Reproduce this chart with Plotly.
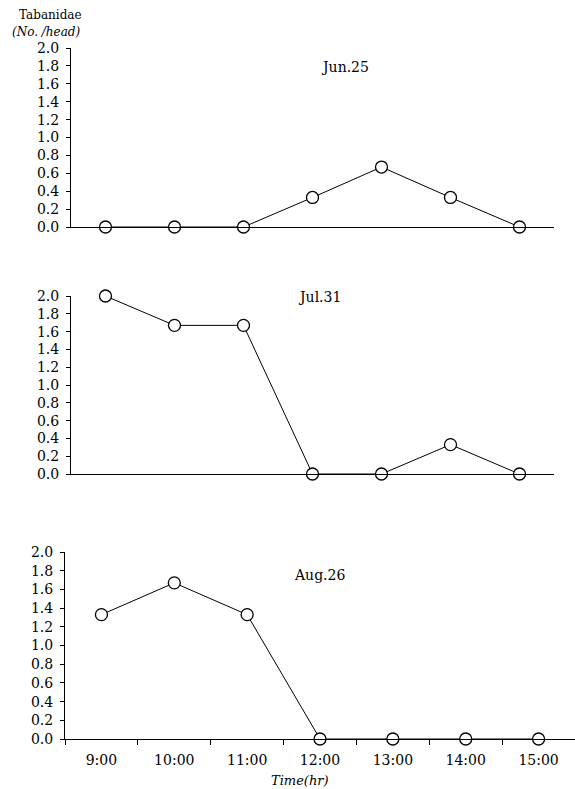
import plotly.graph_objects as go

times = ["9:00", "10:00", "11:00", "12:00", "13:00", "14:00", "15:00"]
jun25 = [0.0, 0.0, 0.0, 0.33, 0.67, 0.33, 0.0]
jul31 = [2.0, 1.67, 1.67, 0.0, 0.0, 0.33, 0.0]
aug26 = [1.33, 1.67, 1.33, 0.0, 0.0, 0.0, 0.0]
panel_titles = ["Jun.25", "Jul.31", "Aug.26"]
yticks = [0.0, 0.2, 0.4, 0.6, 0.8, 1.0, 1.2, 1.4, 1.6, 1.8, 2.0]

W, H = 575, 789
FONT = "DejaVu Serif"

def fx(px):
    return min(1.0, px / W)

def fy(py):
    return 1 - py / H

fig = go.Figure()
series = [jun25, jul31, aug26]
ydoms = [(227, 48), (474, 296), (739, 552)]
xdoms = [(71, 554), (71, 554), (65, 575)]
for i, vals in enumerate(series):
    n = i + 1
    xa = "x" if n == 1 else f"x{n}"
    ya = "y" if n == 1 else f"y{n}"
    fig.add_trace(go.Scatter(
        x=times, y=vals, xaxis=xa, yaxis=ya, mode="lines+markers",
        line=dict(color="black", width=1),
        marker=dict(symbol="circle", size=12, color="white",
                    line=dict(color="black", width=1.3)),
        cliponaxis=False, showlegend=False, hoverinfo="skip"))
    xk = "xaxis" if n == 1 else f"xaxis{n}"
    yk = "yaxis" if n == 1 else f"yaxis{n}"
    last = (n == 3)
    fig.layout[xk] = dict(
        domain=[fx(xdoms[i][0]), fx(xdoms[i][1])], anchor=ya,
        type="category", range=[-0.5, 6.5], automargin=False,
        showline=True, linecolor="black", linewidth=1,
        showgrid=False, zeroline=False,
        ticks="outside" if last else "", tickson="boundaries",
        ticklen=5, tickcolor="black", ticklabelstandoff=8,
        showticklabels=last,
        tickfont=dict(family=FONT, size=14, color="black"))
    fig.layout[yk] = dict(
        domain=[fy(ydoms[i][0]), fy(ydoms[i][1])], anchor=xa,
        range=[0, 2.0], tickvals=yticks, tickformat=".1f", automargin=False,
        showline=True, linecolor="black", linewidth=1,
        showgrid=False, zeroline=False,
        ticks="outside", ticklen=4, tickcolor="black", ticklabelstandoff=4,
        tickfont=dict(family=FONT, size=14, color="black"))

def note(text, px, py, size):
    fig.add_annotation(text=text, x=fx(px), y=fy(py), xref="paper", yref="paper",
                       xanchor="center", yanchor="middle", showarrow=False,
                       font=dict(family=FONT, size=size, color="black"))

title_pos = [(345, 67), (319, 297), (319, 575)]
for t, (px, py) in zip(panel_titles, title_pos):
    note(t, px, py, 14)

note("Tabanidae", 50, 15, 12)
note("<i>(No. /head)</i>", 46, 32, 12)
note("<i>Time(hr)</i>", 300, 780, 13)

fig.update_layout(width=W, height=H, margin=dict(l=0, r=0, t=0, b=0),
                  paper_bgcolor="white", plot_bgcolor="white",
                  font=dict(family=FONT, color="black"))
fig.write_html("out.html", config={"displayModeBar": False},
               post_script="document.body.style.margin='0';")
